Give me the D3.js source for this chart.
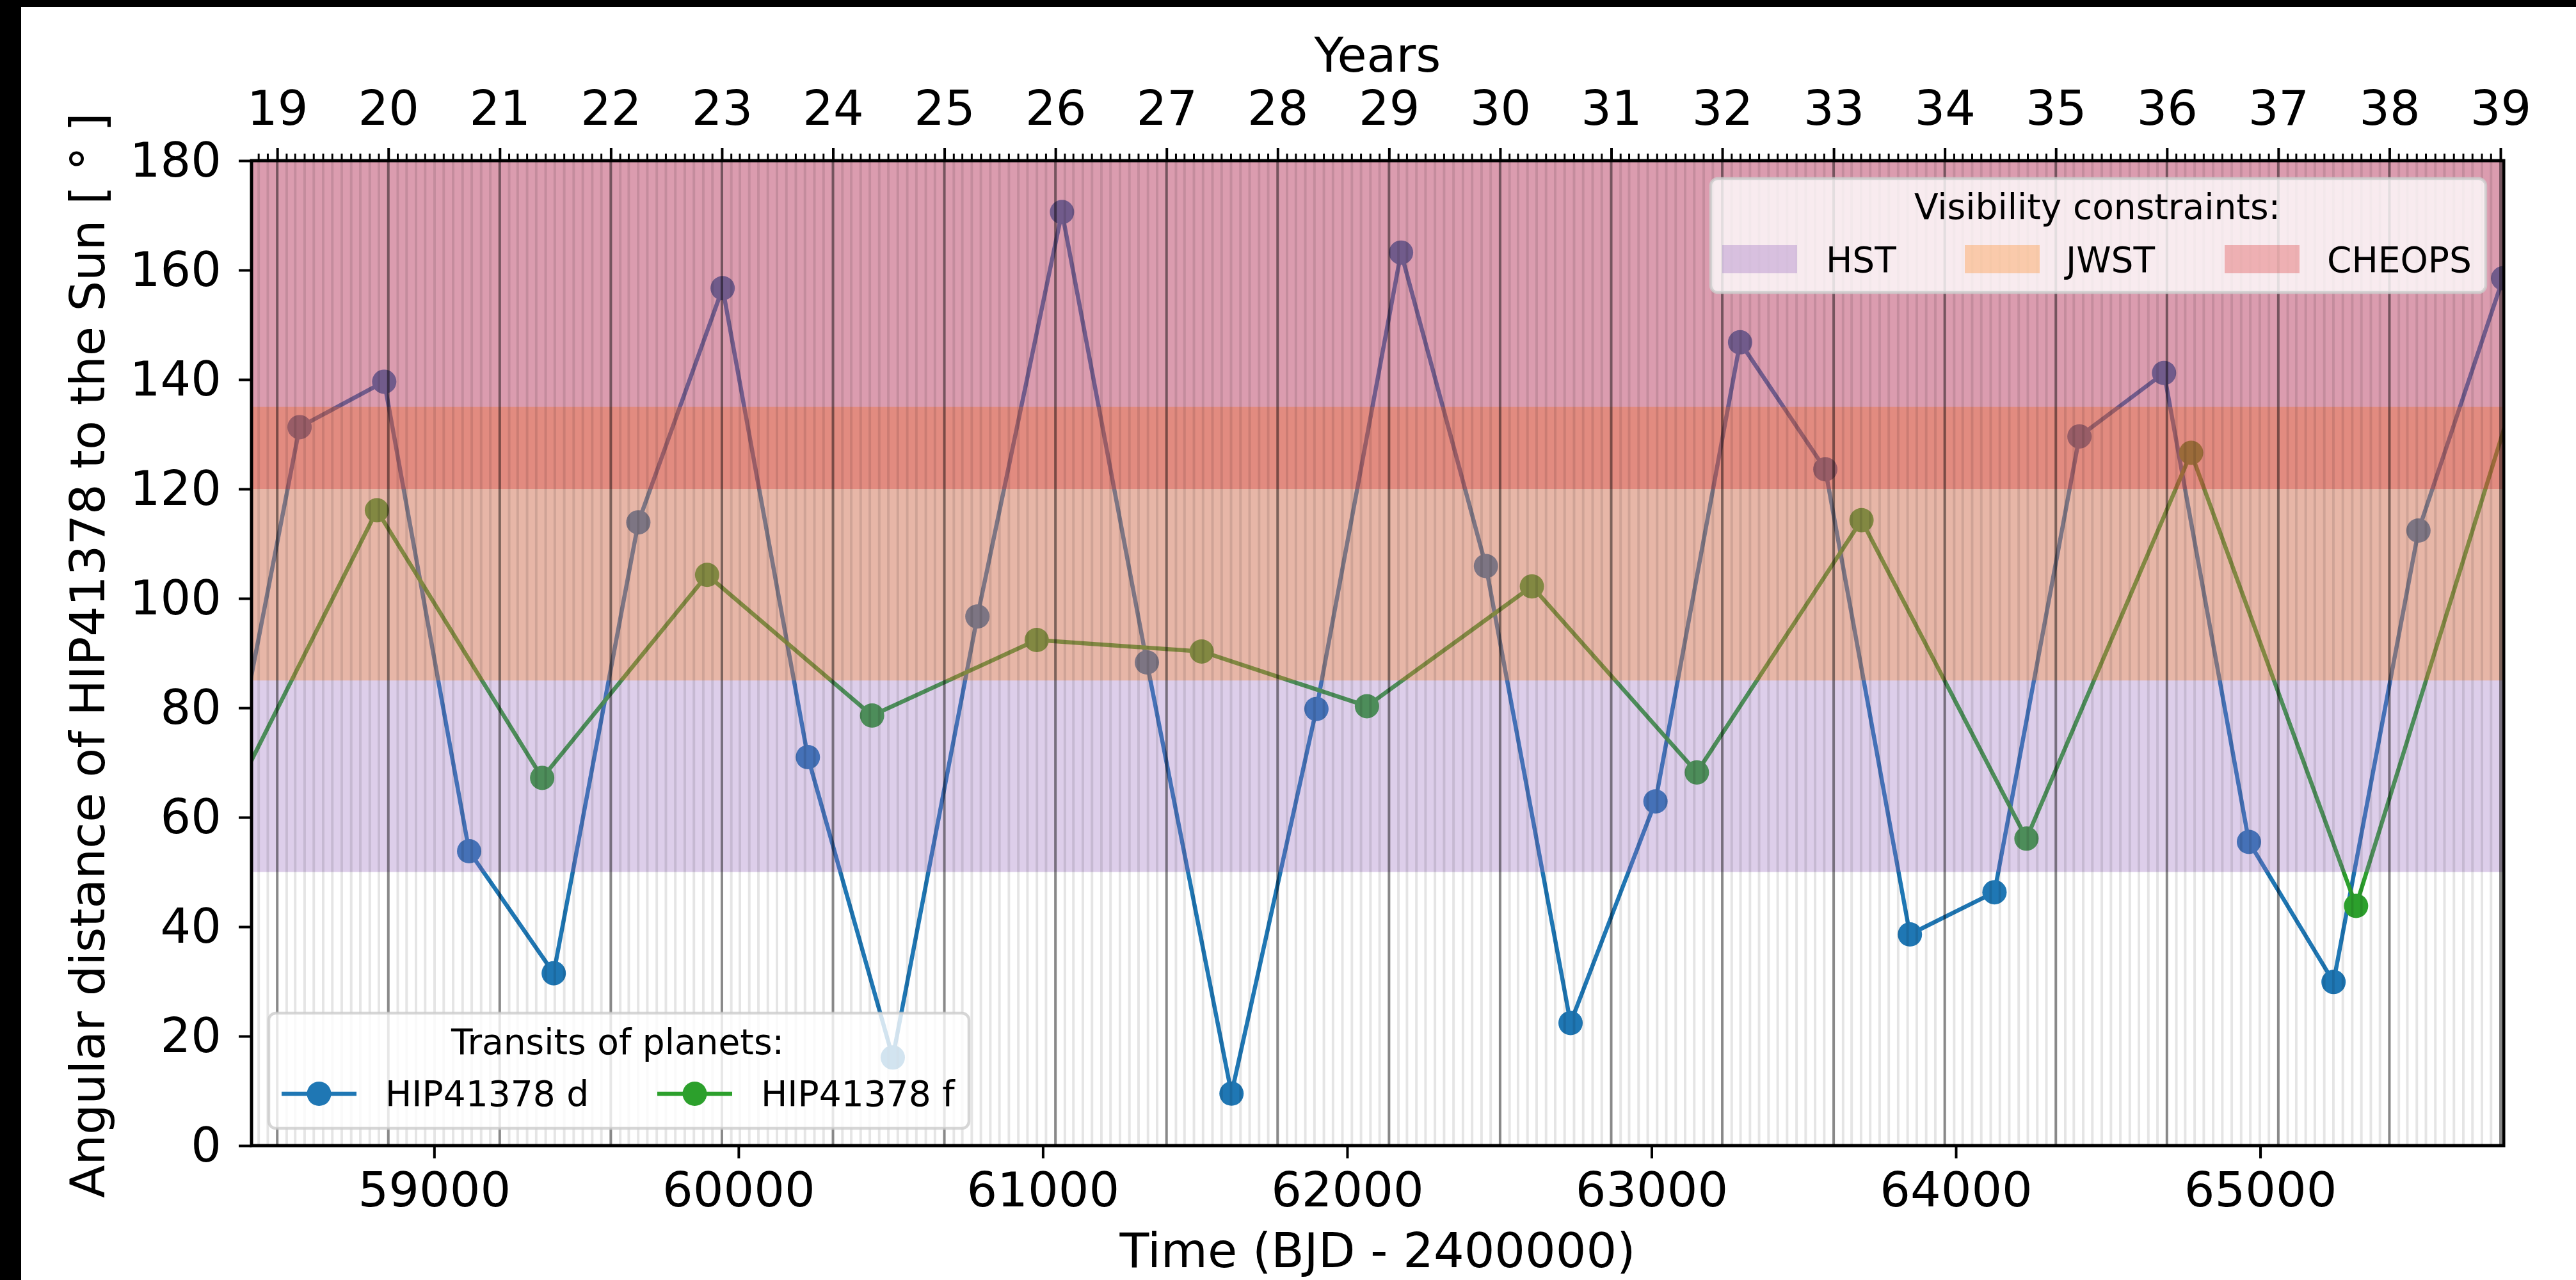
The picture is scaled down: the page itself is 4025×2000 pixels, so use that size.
<!DOCTYPE html>
<html>
<head>
<meta charset="utf-8">
<script src="https://cdn.jsdelivr.net/npm/d3@7"></script>
<style>
  body { margin: 0; background: #fff; }
  svg { display: block; font-family: "DejaVu Sans", sans-serif; }
</style>
</head>
<body>
<div id="chart"></div>
<script>
// transit epochs (BJD - 2400000) and angular distance to the Sun (deg)
const dTimes = [58280, 58558, 58836, 59115, 59393, 59671, 59948, 60228, 60507, 60785,
                61063, 61342, 61620, 61899, 62177, 62456, 62734, 63013, 63291, 63571,
                63849, 64127, 64406, 64684, 64963, 65241, 65520, 65798];
const dAngles = [51.6, 131.3, 139.6, 53.8, 31.5, 113.9, 156.7, 71.0, 16.1, 96.7,
                 170.6, 88.3, 9.5, 79.8, 163.2, 105.9, 22.4, 62.9, 146.8, 123.6,
                 38.6, 46.3, 129.6, 141.2, 55.5, 29.9, 112.4, 158.5];
const fTimes = [58270, 58812, 59355, 59897, 60439, 60980, 61522, 62065, 62607, 63149,
                63690, 64232, 64773, 65315, 65857];
const fAngles = [56.0, 116.1, 67.2, 104.3, 78.6, 92.4, 90.3, 80.3, 102.2, 68.2,
                 114.3, 56.1, 126.6, 43.8, 141.0];

const planetNames = ["HIP41378 d", "HIP41378 f"];
const planetColors = ["#1f77b4", "#2ca02c"];

// visibility windows (deg)
const telescopes = ["HST", "JWST", "CHEOPS"];
const visLow = [50, 85, 120];
const visHigh = [180, 135, 180];
const visColors = ["#9467bd", "#ff7f0e", "#d62728"];
const visAlpha = [0.32, 0.3, 0.3];

const xDomain = [58400, 65800];
const yDomain = [0, 180];
const xTicks = [59000, 60000, 61000, 62000, 63000, 64000, 65000];
const yTicks = [0, 20, 40, 60, 80, 100, 120, 140, 160, 180];

const width = 4025, height = 2000;
const pLeft = 393, pRight = 3912, pTop = 251, pBottom = 1790;

const x = d3.scaleLinear().domain(xDomain).range([pLeft, pRight]);
const y = d3.scaleLinear().domain(yDomain).range([pBottom, pTop]);
// BJD-2400000 -> calendar date for the top axis
const toDate = t => new Date((t - 40587.5) * 86400000);
const xt = d3.scaleUtc().domain(xDomain.map(toDate)).range([pLeft, pRight]);

const svg = d3.select("#chart").append("svg")
    .attr("width", width).attr("height", height);

svg.append("rect").attr("width", width).attr("height", height).attr("fill", "#fff");
svg.append("rect").attr("width", 33).attr("height", height).attr("fill", "#000");
svg.append("rect").attr("width", width).attr("height", 11).attr("fill", "#000");

svg.append("clipPath").attr("id", "plot")
  .append("rect").attr("x", pLeft).attr("y", pTop)
  .attr("width", pRight - pLeft).attr("height", pBottom - pTop);

const plot = svg.append("g").attr("clip-path", "url(#plot)");

// planets
const series = [
  {name: planetNames[0], color: planetColors[0], pts: dTimes.map((t, i) => [t, dAngles[i]])},
  {name: planetNames[1], color: planetColors[1], pts: fTimes.map((t, i) => [t, fAngles[i]])}
];
const line = d3.line().x(d => x(d[0])).y(d => y(d[1]));

series.forEach(s => {
  const g = plot.append("g");
  g.append("path").attr("d", line(s.pts))
    .attr("fill", "none").attr("stroke", s.color).attr("stroke-width", 6.5)
    .attr("stroke-linejoin", "round");
  g.selectAll("circle").data(s.pts).join("circle")
    .attr("cx", d => x(d[0])).attr("cy", d => y(d[1])).attr("r", 19)
    .attr("fill", s.color);
});

// visibility bands on top
telescopes.forEach((t, i) => {
  plot.append("rect")
    .attr("x", pLeft).attr("width", pRight - pLeft)
    .attr("y", y(visHigh[i])).attr("height", y(visLow[i]) - y(visHigh[i]))
    .attr("fill", visColors[i]).attr("fill-opacity", visAlpha[i]);
});

// month / year grid
const months = d3.utcMonth.range(...xt.domain());
const years = d3.utcYear.range(...xt.domain());
plot.append("g").selectAll("line").data(months).join("line")
  .attr("x1", d => xt(d)).attr("x2", d => xt(d))
  .attr("y1", pTop).attr("y2", pBottom)
  .attr("stroke", "#000").attr("stroke-opacity", 0.1).attr("stroke-width", 4);
plot.append("g").selectAll("line").data(years).join("line")
  .attr("x1", d => xt(d)).attr("x2", d => xt(d))
  .attr("y1", pTop).attr("y2", pBottom)
  .attr("stroke", "#000").attr("stroke-opacity", 0.4).attr("stroke-width", 4);

// axes
const tickFont = g => g.selectAll("text")
  .attr("font-size", 75).attr("font-family", "DejaVu Sans").attr("fill", "#000");

const xAxis = svg.append("g").attr("transform", `translate(0,${pBottom})`)
  .call(d3.axisBottom(x).tickValues(xTicks).tickFormat(d3.format("d"))
    .tickSize(20).tickPadding(22).tickSizeOuter(0))
  .call(tickFont);
xAxis.select(".domain").remove();
xAxis.selectAll(".tick line").attr("stroke-width", 4);

const yAxis = svg.append("g").attr("transform", `translate(${pLeft},0)`)
  .call(d3.axisLeft(y).tickValues(yTicks).tickSize(20).tickPadding(27).tickSizeOuter(0))
  .call(tickFont);
yAxis.select(".domain").remove();
yAxis.selectAll(".tick line").attr("stroke-width", 4);

const topAxis = svg.append("g").attr("transform", `translate(0,${pTop})`)
  .call(d3.axisTop(xt).tickValues(years).tickFormat(d3.utcFormat("%y"))
    .tickSize(20).tickPadding(36).tickSizeOuter(0))
  .call(tickFont);
topAxis.select(".domain").remove();
topAxis.selectAll(".tick line").attr("stroke-width", 4);

svg.append("g").selectAll("line").data(months.filter(m => m.getUTCMonth() !== 0)).join("line")
  .attr("x1", d => xt(d)).attr("x2", d => xt(d))
  .attr("y1", pTop).attr("y2", pTop - 11)
  .attr("stroke", "#000").attr("stroke-width", 3);

// spines
svg.append("rect").attr("x", pLeft).attr("y", pTop)
  .attr("width", pRight - pLeft).attr("height", pBottom - pTop)
  .attr("fill", "none").attr("stroke", "#000").attr("stroke-width", 5);

// axis labels
svg.append("text").attr("x", (pLeft + pRight) / 2).attr("y", 1980)
  .attr("text-anchor", "middle").attr("font-size", 75).text("Time (BJD - 2400000)");
svg.append("text").attr("x", (pLeft + pRight) / 2).attr("y", 112)
  .attr("text-anchor", "middle").attr("font-size", 75).text("Years");
svg.append("text").attr("transform", "translate(163,1024) rotate(-90)")
  .attr("text-anchor", "middle").attr("font-size", 75)
  .text("Angular distance of HIP41378 to the Sun [ ° ]");

// legends
function legendFrame(x0, y0, w, h) {
  svg.append("rect").attr("x", x0).attr("y", y0).attr("width", w).attr("height", h)
    .attr("rx", 11).attr("fill", "#fff").attr("fill-opacity", 0.8)
    .attr("stroke", "#ccc").attr("stroke-opacity", 0.8).attr("stroke-width", 4.5);
}

// visibility legend
legendFrame(2673, 279, 1211, 178);
svg.append("text").attr("x", 3277).attr("y", 342).attr("text-anchor", "middle")
  .attr("font-size", 55).text("Visibility constraints:");
const visPatchX = [2691, 3070, 3476];
const visTextX = [2853, 3228, 3636];
telescopes.forEach((t, i) => {
  svg.append("rect").attr("x", visPatchX[i]).attr("y", 383).attr("width", 117).attr("height", 44)
    .attr("fill", visColors[i]).attr("fill-opacity", visAlpha[i]);
  svg.append("text").attr("x", visTextX[i]).attr("y", 425).attr("font-size", 55).text(t);
});

// planets legend
legendFrame(420, 1583, 1094, 180);
svg.append("text").attr("x", 965).attr("y", 1647).attr("text-anchor", "middle")
  .attr("font-size", 55).text("Transits of planets:");
const handleX = [440, 1027];
const labelX = [602, 1189];
series.forEach((s, i) => {
  svg.append("line").attr("x1", handleX[i]).attr("x2", handleX[i] + 117)
    .attr("y1", 1709).attr("y2", 1709)
    .attr("stroke", s.color).attr("stroke-width", 6.5);
  svg.append("circle").attr("cx", handleX[i] + 58.5).attr("cy", 1709).attr("r", 19)
    .attr("fill", s.color);
  svg.append("text").attr("x", labelX[i]).attr("y", 1728).attr("font-size", 55).text(s.name);
});
</script>
</body>
</html>
